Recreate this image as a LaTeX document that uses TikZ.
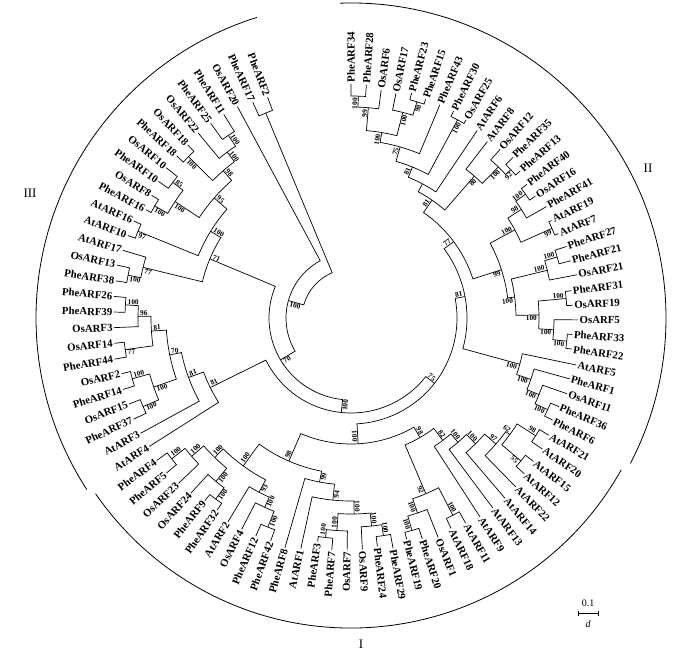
\documentclass[tikz,border=0pt]{standalone}
\usepackage{fontspec}
\setmainfont{Liberation Serif}
\tikzset{
  branch/.style={line width=0.7pt},
  leaflabel/.style={font=\fontsize{10.8}{11}\selectfont\bfseries, inner sep=0pt},
  suplabel/.style={font=\fontsize{7.3}{8}\selectfont\bfseries, inner sep=0.5pt},
  grouparc/.style={line width=0.8pt},
  grouplabel/.style={font=\fontsize{13}{13}\selectfont, inner sep=0pt},
  scaletext/.style={font=\fontsize{10}{10}\selectfont, inner sep=0pt}
}
\newcommand\angzero{90}
\newcommand\angstep{3.77}
% leaf: name, position, tip radius
\newcommand\leaf[3]{%
  \pgfmathsetmacro\lfa{\angzero-(#2-1)*\angstep}%
  \expandafter\xdef\csname ang#1\endcsname{\lfa}%
  \expandafter\xdef\csname rad#1\endcsname{#3}%
  \expandafter\gdef\csname sup#1\endcsname{}%
  \coordinate (#1) at (\lfa:#3);
  \pgfmathtruncatemacro\lfr{\lfa>-90}%
  \ifnum\lfr=1
    \node[leaflabel, anchor=west, rotate=\lfa] (#1-t) at (\lfa:#3+1.5) {#1};
  \else
    \pgfmathsetmacro\lfb{\lfa+180}%
    \node[leaflabel, anchor=east, rotate=\lfb] (#1-t) at (\lfa:#3+1.5) {#1};
  \fi
}
% bootstrap value of a child, on the side away from its sibling
\newcommand\suplabel[2]{%
  \edef\sla{\csname ang#1\endcsname}%
  \edef\slr{\csname rad#1\endcsname}%
  \edef\slt{\csname sup#1\endcsname}%
  \ifx\slt\empty\else
    \pgfmathtruncatemacro\slq{\sla>-90}%
    \ifnum\slq=1
      \pgfmathsetmacro\slrot{\sla}%
      \ifnum#2=1 \def\slanc{south east}\else\def\slanc{north east}\fi
    \else
      \pgfmathsetmacro\slrot{\sla+180}%
      \ifnum#2=1 \def\slanc{north west}\else\def\slanc{south west}\fi
    \fi
    \node[suplabel, anchor=\slanc, rotate=\slrot] at (\sla:\slr-1.5) {\slt};
  \fi
}
% clade: name, radius, first child, second child, bootstrap
\newcommand\clade[5]{%
  \edef\cla{\csname ang#3\endcsname}%
  \edef\clb{\csname ang#4\endcsname}%
  \pgfmathsetmacro\clm{(\cla+\clb)/2}%
  \expandafter\xdef\csname ang#1\endcsname{\clm}%
  \expandafter\xdef\csname rad#1\endcsname{#2}%
  \expandafter\gdef\csname sup#1\endcsname{#5}%
  \coordinate (#1) at (\clm:#2);
  \coordinate (#3-b) at (\cla:#2);
  \coordinate (#4-b) at (\clb:#2);
  \draw[branch] (#3) -- (#3-b) arc[start angle=\cla, end angle=\clb, radius=#2] -- (#4);
  \suplabel{#3}{1}\suplabel{#4}{-1}%
}
\begin{document}
\begin{tikzpicture}[x=1pt, y=1pt]
\useasboundingbox (-351,-335) rectangle (333,318);
% leaves, clockwise from the top
\leaf{PheARF34}{1}{234}
\leaf{PheARF28}{2}{234}
\leaf{OsARF6}{3}{230}
\leaf{OsARF17}{4}{229}
\leaf{PheARF23}{5}{233}
\leaf{PheARF15}{6}{231}
\leaf{PheARF43}{7}{231}
\leaf{PheARF30}{8}{231}
\leaf{OsARF25}{9}{229}
\leaf{AtARF6}{10}{226}
\leaf{AtARF8}{11}{223}
\leaf{OsARF12}{12}{225}
\leaf{PheARF35}{13}{228}
\leaf{PheARF13}{14}{224}
\leaf{PheARF40}{15}{221}
\leaf{OsARF16}{16}{221}
\leaf{PheARF41}{17}{225}
\leaf{AtARF19}{18}{223}
\leaf{AtARF7}{19}{224}
\leaf{PheARF27}{20}{227}
\leaf{PheARF21}{21}{227}
\leaf{OsARF21}{22}{230}
\leaf{PheARF31}{23}{222}
\leaf{OsARF19}{24}{222}
\leaf{OsARF5}{25}{227}
\leaf{PheARF33}{26}{222}
\leaf{PheARF22}{27}{223}
\leaf{AtARF5}{28}{230}
\leaf{PheARF1}{29}{227}
\leaf{OsARF11}{30}{229}
\leaf{PheARF36}{31}{226}
\leaf{PheARF6}{32}{226}
\leaf{AtARF21}{33}{230}
\leaf{AtARF20}{34}{232}
\leaf{AtARF15}{35}{232}
\leaf{AtARF12}{36}{233}
\leaf{AtARF22}{37}{236}
\leaf{AtARF14}{38}{237}
\leaf{AtARF13}{39}{237}
\leaf{AtARF9}{40}{237}
\leaf{AtARF11}{41}{235}
\leaf{AtARF18}{42}{233}
\leaf{OsARF1}{43}{236}
\leaf{PheARF20}{44}{232}
\leaf{PheARF19}{45}{228}
\leaf{PheARF29}{46}{234}
\leaf{PheARF24}{47}{230}
\leaf{OsARF9}{48}{232}
\leaf{OsARF7}{49}{232}
\leaf{PheARF7}{50}{233}
\leaf{PheARF3}{51}{226}
\leaf{AtARF1}{52}{236}
\leaf{PheARF8}{53}{239}
\leaf{PheARF42}{54}{237}
\leaf{PheARF12}{55}{238}
\leaf{OsARF4}{56}{238}
\leaf{AtARF2}{57}{238}
\leaf{PheARF32}{58}{234}
\leaf{PheARF9}{59}{234}
\leaf{OsARF24}{60}{237}
\leaf{OsARF23}{61}{239}
\leaf{PheARF5}{62}{241}
\leaf{PheARF4}{63}{241}
\leaf{AtARF4}{64}{239}
\leaf{AtARF3}{65}{240}
\leaf{PheARF37}{66}{240}
\leaf{OsARF15}{67}{238}
\leaf{PheARF14}{68}{239}
\leaf{OsARF2}{69}{236}
\leaf{PheARF44}{70}{240}
\leaf{OsARF14}{71}{238}
\leaf{OsARF3}{72}{237}
\leaf{PheARF39}{73}{237}
\leaf{PheARF26}{74}{238}
\leaf{PheARF38}{75}{238}
\leaf{OsARF13}{76}{240}
\leaf{AtARF17}{77}{238}
\leaf{AtARF10}{78}{238}
\leaf{AtARF16}{79}{238}
\leaf{PheARF16}{80}{232}
\leaf{OsARF8}{81}{234}
\leaf{PheARF10}{82}{236}
\leaf{OsARF10}{83}{238}
\leaf{PheARF18}{84}{238}
\leaf{OsARF18}{85}{238}
\leaf{OsARF22}{86}{240}
\leaf{PheARF25}{87}{240}
\leaf{PheARF11}{88}{240}
\leaf{OsARF20}{89}{240}
\leaf{PheARF17}{90}{237}
\leaf{PheARF2}{91}{236}
% group II
\clade{c1}{222}{PheARF34}{PheARF28}{100}
\clade{c2}{211}{c1}{OsARF6}{99}
\clade{c5}{226}{PheARF23}{PheARF15}{98}
\clade{c4}{212}{OsARF17}{c5}{100}
\clade{c3}{188}{c2}{c4}{100}
\clade{c6}{178}{c3}{PheARF43}{75}
\clade{c7}{225}{PheARF30}{OsARF25}{100}
\clade{c8}{163}{c6}{c7}{81}
\clade{c9}{152}{c8}{AtARF6}{}
\clade{c10}{218}{PheARF35}{PheARF13}{92}
\clade{c11}{211}{OsARF12}{c10}{100}
\clade{c13}{188}{AtARF8}{c11}{80}
\clade{c14}{143}{c9}{c13}{81}
\clade{c16}{214}{PheARF40}{OsARF16}{100}
\clade{c17}{202}{c16}{PheARF41}{98}
\clade{c18}{220}{AtARF19}{AtARF7}{99}
\clade{c19}{186}{c17}{c18}{100}
\clade{c20}{215}{PheARF27}{PheARF21}{100}
\clade{c21}{202}{c20}{OsARF21}{100}
\clade{c22}{216}{PheARF31}{OsARF19}{100}
\clade{c23}{217}{PheARF33}{PheARF22}{100}
\clade{c24}{203}{OsARF5}{c23}{100}
\clade{c25}{188}{c22}{c24}{100}
\clade{c26}{165}{c21}{c25}{100}
\clade{c27}{158}{c19}{c26}{99}
\clade{c15}{128}{c14}{c27}{77}
\clade{c29}{217}{PheARF36}{PheARF6}{100}
\clade{c30}{203}{OsARF11}{c29}{100}
\clade{c31}{190}{PheARF1}{c30}{100}
\clade{c32}{175}{AtARF5}{c31}{100}
\clade{c28}{116}{c15}{c32}{81}
% group I
\clade{d1}{219}{AtARF21}{AtARF20}{98}
\clade{d2}{222}{AtARF15}{AtARF12}{55}
\clade{d3}{197}{d1}{d2}{62}
\clade{d4}{192}{d3}{AtARF22}{97}
\clade{d5}{177}{d4}{AtARF14}{100}
\clade{d6}{164}{d5}{AtARF13}{100}
\clade{d7}{153}{d6}{AtARF9}{82}
\clade{d8}{222}{AtARF11}{AtARF18}{100}
\clade{d9}{221}{PheARF20}{PheARF19}{100}
\clade{d10}{206}{OsARF1}{d9}{100}
\clade{d11}{191}{d8}{d10}{92}
\clade{d12}{138}{d7}{d11}{98}
\clade{e1}{220}{PheARF29}{PheARF24}{100}
\clade{e2}{209}{e1}{OsARF9}{100}
\clade{e3}{221}{PheARF7}{PheARF3}{100}
\clade{e4}{213}{OsARF7}{e3}{100}
\clade{e5}{196}{e2}{e4}{100}
\clade{e6}{183}{e5}{AtARF1}{94}
\clade{e7}{167}{e6}{PheARF8}{99}
\clade{e8}{225}{PheARF42}{PheARF12}{100}
\clade{e9}{208}{e8}{OsARF4}{100}
\clade{e10}{197}{e9}{AtARF2}{93}
\clade{e11}{226}{PheARF32}{PheARF9}{100}
\clade{e12}{212}{e11}{OsARF24}{100}
\clade{e13}{228}{PheARF5}{PheARF4}{100}
\clade{e14}{211}{OsARF23}{e13}{100}
\clade{e15}{195}{e12}{e14}{100}
\clade{e16}{183}{e10}{e15}{100}
\clade{e17}{156}{e7}{e16}{98}
\clade{g1}{126}{d12}{e17}{100}
% group III
\clade{q1}{226}{PheARF37}{OsARF15}{100}
\clade{q2}{227}{PheARF14}{OsARF2}{100}
\clade{q3}{209}{q1}{q2}{100}
\clade{q4}{228}{PheARF44}{OsARF14}{77}
\clade{q5}{226}{PheARF39}{PheARF26}{100}
\clade{q6}{213}{OsARF3}{q5}{96}
\clade{q7}{200}{q4}{q6}{81}
\clade{q8}{185}{q3}{q7}{70}
\clade{q9}{173}{AtARF3}{q8}{81}
\clade{q10}{157}{AtARF4}{q9}{81}
\clade{q11}{227}{PheARF38}{OsARF13}{100}
\clade{q12}{214}{q11}{AtARF17}{77}
\clade{q13}{230}{AtARF10}{AtARF16}{97}
\clade{q14}{226}{PheARF16}{OsARF8}{100}
\clade{q15}{224}{PheARF10}{OsARF10}{85}
\clade{q16}{211}{q14}{q15}{100}
\clade{q17}{229}{PheARF18}{OsARF18}{100}
\clade{q18}{220}{PheARF25}{PheARF11}{100}
\clade{q19}{207}{OsARF22}{q18}{100}
\clade{q20}{195}{q17}{q19}{98}
\clade{q21}{182}{q16}{q20}{95}
\clade{q22}{165}{q13}{q21}{100}
\clade{q23}{153}{q12}{q22}{71}
% inner nodes and root
\clade{h2}{106}{c28}{g1}{75}
\clade{h1}{95}{h2}{q10}{100}
\clade{h3}{82}{h1}{q23}{70}
\clade{h4}{65}{h3}{OsARF20}{100}
\clade{h5}{222}{PheARF17}{PheARF2}{}
\clade{root}{49}{h4}{h5}{}
% group brackets
\draw[grouparc] (92:315) coordinate (II-s) arc[start angle=92, end angle=-27.5, radius=315] coordinate (II-e);
\draw[grouparc] (-29.3:310) coordinate (I-s) arc[start angle=-29.3, end angle=-145.5, radius=310] coordinate (I-e);
\draw[grouparc] (-147:315) coordinate (III-s) arc[start angle=-147, end angle=-252.6, radius=315] coordinate (III-e);
\node[grouplabel] (II) at (297,150) {II};
\node[grouplabel] (I) at (10,-326) {I};
\node[grouplabel] (III) at (-321,125) {III};
% scale bar
\coordinate (bar-l) at (227,-295);
\coordinate (bar-r) at (247,-295);
\draw[branch] (bar-l) -- (bar-r);
\draw[branch] (bar-l) ++(0,2.5) -- ++(0,-5);
\draw[branch] (bar-r) ++(0,2.5) -- ++(0,-5);
\node[scaletext] (bar-t) at (237,-285) {0.1};
\node[scaletext] (bar-d) at (237,-306) {\itshape d};
\end{tikzpicture}
\end{document}
